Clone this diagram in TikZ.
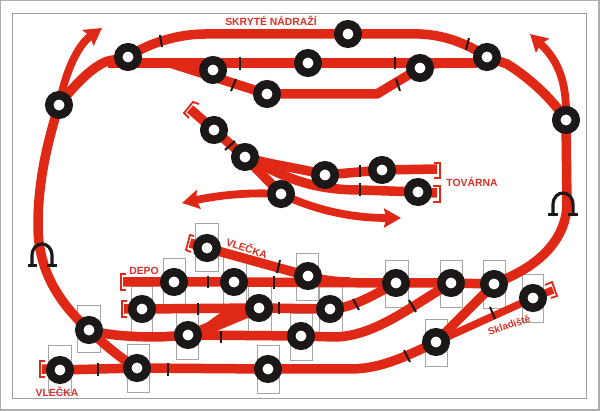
\documentclass[tikz,border=0pt]{standalone}
\usepackage{fontspec}
\setmainfont{Liberation Sans}
\usetikzlibrary{arrows.meta}
\definecolor{trackred}{RGB}{223,41,22}
\definecolor{labelred}{RGB}{214,50,42}
\definecolor{stnblack}{RGB}{28,24,24}
\definecolor{boxgray}{RGB}{165,165,165}
\pgfdeclarelayer{boxes}
\pgfdeclarelayer{tracks}
\pgfsetlayers{boxes,tracks,main}
\tikzset{
  stn/.style={circle,draw=stnblack,fill=white,line width=8.5pt,minimum size=19.5pt,inner sep=0pt,outer sep=0pt},
  track/.style={draw=trackred,line width=9.5pt,line cap=butt,line join=round},
  arrowed/.style={draw=trackred,line width=7.8pt,-{Stealth[length=17pt,width=19pt,inset=2.5pt,fill=trackred]}},
  tick/.style={draw=stnblack,line width=2pt},
  brk/.style={draw=trackred,line width=1.8pt,line join=miter},
  gbox/.style={draw=boxgray,line width=0.7pt},
  bridge/.style={draw=stnblack,line width=3.2pt},
  foot/.style={draw=stnblack,line width=3.6pt},
  lab/.style={text=labelred,inner sep=0pt,font=\bfseries\fontsize{10.4}{12}\selectfont},
}
\begin{document}
\begin{tikzpicture}[x=1pt,y=-1pt]
\useasboundingbox (0,0) rectangle (600,411);

% stations
\foreach \n/\x/\y in {n1/59/105,n2/128/57,n3/213/70,n4/267/94,n5/308/63,n6/348/34,n7/420/68,n8/487/57,n9/566/120,
  f1/214/130,f2/245/157,f3/281/194,f4/325/175,f5/382/170,f6/418/192,
  a1/207/248,b1/174/282,b2/234/282,c1/308/276,d1/142/309,d2/259/308,d3/330/309,
  e1/89/330,e2/188/335,e3/301/336,g1/60/370,g2/137/368,g3/268/369,
  h1/396/283,h2/451/283,h3/494/284,h4/533/298,h5/436/342}
  {\node[stn] (\n) at (\x,\y) {};}

% free ends
\coordinate (upA) at (102,28);
\coordinate (upB) at (530,34);
\coordinate (leftA) at (182,203);
\coordinate (rightA) at (401,218);
\coordinate (endF1) at (190,109);
\coordinate (endF5) at (437,169);
\coordinate (endF6) at (437,193);
\coordinate (endA1) at (190,243);
\coordinate (endB) at (123,282);
\coordinate (endD) at (124,309);
\coordinate (endG) at (42,369);
\coordinate (endH4) at (553,290);

\begin{pgfonlayer}{boxes}
\fill[white] (0,0) rectangle (600,411);
\draw[draw=black!32,line width=1.4pt] (0.3,0.3) rectangle (599,410);
\draw[draw=black!38,line width=0.8pt] (12.7,13.7) rectangle (586,398);
\foreach \xa/\ya/\xb/\yb in {195/223/218/271,163/258/185/306,223/257/246/304,131/286/152/333,248/285/271/332,
  176/311/198/359,77/305/100/352,48/345/71/392,127/344/149/392,257/345/279/393,296/253/318/300,319/286/342/333,
  290/313/312/360,385/260/408/307,440/260/462/307,483/260/505/308,522/274/543/322,425/319/447/366}
  {\draw[gbox] (\xa,\ya) rectangle (\xb,\yb);}
\end{pgfonlayer}

\begin{pgfonlayer}{tracks}
% outer loop
\draw[track] (n2.center) .. controls (150,42) and (180,34) .. (205,34) -- (n6.center) -- (420,34) .. controls (445,35) and (468,44) .. (n8.center);
\draw[track] (n8.center) -- (507,64) .. controls (530,78) and (553,100) .. (n9.center);
\draw[track] (n1.center) .. controls (72,88) and (92,66) .. (108,61) -- (n2.center);
\draw[arrowed] (n1.center) .. controls (66,70) and (78,45) .. (upA);
\draw[arrowed] (n9.center) .. controls (567,85) and (560,62) .. (upB);
\draw[track] (n1.center) .. controls (48,140) and (38,180) .. (38,225) .. controls (38,260) and (50,295) .. (e1.center);
\draw[track] (e1.center) .. controls (105,335) and (130,337) .. (160,337) -- (e2.center);
\draw[track] (e1.center) .. controls (105,345) and (120,358) .. (g2.center);
\draw[track] (n9.center) -- (567,205) .. controls (566,235) and (545,262) .. (505,279) -- (h3.center);
% upper yard
\draw[track] (108,63) -- (477,63);
\draw[track] (170,63) -- (n4.center);
\draw[track] (n4.center) -- (377,94) -- (n7.center) -- (432,64) -- (445,63);
% factory
\draw[track] (endF1) -- (f1.center) -- (f2.center) -- (f3.center);
\draw[track] (f2.center) .. controls (270,165) and (300,168) .. (f4.center) -- (f5.center) -- (endF5);
\draw[track] (f2.center) .. controls (275,170) and (300,190) .. (360,190) -- (f6.center) -- (endF6);
\draw[arrowed] (f3.center) .. controls (250,192) and (220,195) .. (leftA);
\draw[arrowed] (f3.center) .. controls (320,212) and (355,218) .. (rightA);
% lower yard
\draw[track] (endB) -- (b1.center) -- (b2.center) -- (h1.center) -- (h2.center) -- (h3.center);
\draw[track] (endD) -- (d1.center) -- (d2.center) -- (d3.center);
\draw[track] (endA1) -- (a1.center) -- (c1.center) .. controls (322,280) and (335,282) .. (350,282);
\draw[track] (e2.center) -- (e3.center);
\draw[track] (e2.center) -- (d2.center);
\fill[trackred] (195,331) -- (230,306) -- (255,306) -- (255,315) -- (200,338) -- cycle;
\draw[track] (d3.center) .. controls (350,308) and (365,300) .. (h1.center);
\draw[track] (e3.center) -- (335,337) .. controls (375,336) and (410,307) .. (h2.center);
\draw[track] (endG) -- (g1.center) -- (g2.center) -- (g3.center) -- (350,369) .. controls (380,369) and (405,357) .. (h5.center);
\draw[track] (h5.center) -- (h3.center);
\draw[draw=trackred,line width=7.5pt] (h5.center) -- (h4.center) -- (endH4);
\end{pgfonlayer}

% ticks
\foreach \xa/\ya/\xb/\yb in {160/35/162/47,240/57/240/70,236/79/231/91,469/38/466/50,395/57/395/69,396/79/400/91,
  225/150/235/141,360/165/360/177,360/183/360/196,208/276/208/288,274/276/274/289,280/260/277/273,198/303/198/315,
  279/302/279/314,221/331/221/343,98/363/98/376,168/363/168/376,353/299/359/310,409/300/416/312,490/307/495/319,404/350/410/362}
  {\draw[tick] (\xa,\ya) -- (\xb,\yb);}

% buffer stops
\draw[brk] (199,104) -- (193,102) -- (184,113) -- (189,118);
\draw[brk] (434,163) -- (440,163) -- (440,178) -- (434,178);
\draw[brk] (433,186) -- (440,186) -- (440,202) -- (433,202);
\draw[brk] (194,236) -- (190,235) -- (186,250) -- (191,252);
\draw[brk] (126,274) -- (121,274) -- (121,290) -- (126,290);
\draw[brk] (127,301) -- (122,301) -- (122,317) -- (127,317);
\draw[brk] (45,361) -- (40,361) -- (40,377) -- (45,377);
\draw[brk] (545,285) -- (552,282) -- (557,296) -- (551,298);

% bridges
\draw[bridge] (32,265) -- (32,256) .. controls (32,240) and (52,240) .. (52,256) -- (52,265);
\draw[foot] (28,265.5) -- (37,265.5);
\draw[foot] (47,265.5) -- (57,265.5);
\draw[bridge] (553,214) -- (553,205) .. controls (553,189) and (573,189) .. (573,205) -- (573,214);
\draw[foot] (548,214.5) -- (558,214.5);
\draw[foot] (568,214.5) -- (578,214.5);

% labels
\node[lab] (t1) at (271,21) {SKRYTÉ NÁDRAŽÍ};
\node[lab] (t2) at (472,182) {TOVÁRNA};
\node[lab,rotate=-19] (t3) at (247,248) {VLEČKA};
\node[lab] (t4) at (144,271) {DEPO};
\node[lab] (t5) at (57,392) {VLEČKA};
\node[lab,rotate=18,font=\bfseries\fontsize{10}{11}\selectfont] (t6) at (509,325) {Skladiště};
\end{tikzpicture}
\end{document}
